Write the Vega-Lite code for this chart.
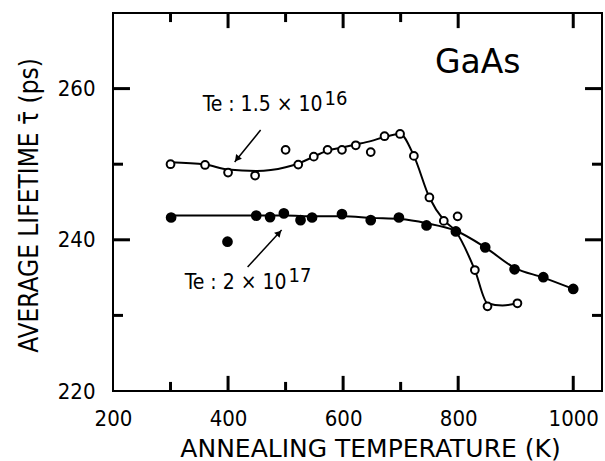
{
  "$schema": "https://vega.github.io/schema/vega-lite/v6.json",
  "width": 489,
  "height": 378,
  "autosize": "none",
  "padding": {"left": 113, "top": 13, "right": 3, "bottom": 70},
  "background": "white",
  "config": {
    "view": {"stroke": "black", "strokeWidth": 2},
    "axis": {
      "domain": false,
      "grid": false,
      "ticks": false,
      "labelFont": "DejaVu Sans Condensed",
      "labelFontSize": 22,
      "labelColor": "black",
      "labelOverlap": false,
      "labelFlush": false,
      "labelBound": false,
      "titleColor": "black",
      "titleFontWeight": "normal"
    }
  },
  "datasets": {
    "points": [
      {"T": 300, "tau": 250.0, "series": "Te 1.5e16"},
      {"T": 360, "tau": 249.9, "series": "Te 1.5e16"},
      {"T": 400, "tau": 248.9, "series": "Te 1.5e16"},
      {"T": 447, "tau": 248.5, "series": "Te 1.5e16"},
      {"T": 500, "tau": 251.9, "series": "Te 1.5e16"},
      {"T": 522, "tau": 249.95, "series": "Te 1.5e16"},
      {"T": 549, "tau": 251.0, "series": "Te 1.5e16"},
      {"T": 573, "tau": 251.9, "series": "Te 1.5e16"},
      {"T": 598, "tau": 251.9, "series": "Te 1.5e16"},
      {"T": 622, "tau": 252.5, "series": "Te 1.5e16"},
      {"T": 648, "tau": 251.6, "series": "Te 1.5e16"},
      {"T": 672, "tau": 253.7, "series": "Te 1.5e16"},
      {"T": 699, "tau": 254.0, "series": "Te 1.5e16"},
      {"T": 723, "tau": 251.1, "series": "Te 1.5e16"},
      {"T": 750, "tau": 245.6, "series": "Te 1.5e16"},
      {"T": 775, "tau": 242.5, "series": "Te 1.5e16"},
      {"T": 799, "tau": 243.1, "series": "Te 1.5e16"},
      {"T": 829, "tau": 236.0, "series": "Te 1.5e16"},
      {"T": 851, "tau": 231.2, "series": "Te 1.5e16"},
      {"T": 903, "tau": 231.6, "series": "Te 1.5e16"},
      {"T": 301, "tau": 242.95, "series": "Te 2e17"},
      {"T": 399, "tau": 239.75, "series": "Te 2e17"},
      {"T": 449, "tau": 243.2, "series": "Te 2e17"},
      {"T": 473, "tau": 243.0, "series": "Te 2e17"},
      {"T": 497, "tau": 243.5, "series": "Te 2e17"},
      {"T": 526, "tau": 242.6, "series": "Te 2e17"},
      {"T": 546, "tau": 242.95, "series": "Te 2e17"},
      {"T": 598, "tau": 243.4, "series": "Te 2e17"},
      {"T": 648, "tau": 242.6, "series": "Te 2e17"},
      {"T": 697, "tau": 242.95, "series": "Te 2e17"},
      {"T": 745, "tau": 241.9, "series": "Te 2e17"},
      {"T": 796, "tau": 241.1, "series": "Te 2e17"},
      {"T": 847, "tau": 239.0, "series": "Te 2e17"},
      {"T": 898, "tau": 236.1, "series": "Te 2e17"},
      {"T": 948, "tau": 235.05, "series": "Te 2e17"},
      {"T": 1000, "tau": 233.5, "series": "Te 2e17"}
    ],
    "curves": [
      {"T": 300, "tau": 250.25, "series": "Te 1.5e16"},
      {"T": 360, "tau": 249.95, "series": "Te 1.5e16"},
      {"T": 400, "tau": 249.3, "series": "Te 1.5e16"},
      {"T": 450, "tau": 249.1, "series": "Te 1.5e16"},
      {"T": 500, "tau": 249.6, "series": "Te 1.5e16"},
      {"T": 522, "tau": 250.1, "series": "Te 1.5e16"},
      {"T": 549, "tau": 251.0, "series": "Te 1.5e16"},
      {"T": 573, "tau": 251.8, "series": "Te 1.5e16"},
      {"T": 598, "tau": 252.2, "series": "Te 1.5e16"},
      {"T": 622, "tau": 252.6, "series": "Te 1.5e16"},
      {"T": 648, "tau": 253.05, "series": "Te 1.5e16"},
      {"T": 672, "tau": 253.6, "series": "Te 1.5e16"},
      {"T": 699, "tau": 254.0, "series": "Te 1.5e16"},
      {"T": 723, "tau": 251.1, "series": "Te 1.5e16"},
      {"T": 750, "tau": 245.6, "series": "Te 1.5e16"},
      {"T": 775, "tau": 242.6, "series": "Te 1.5e16"},
      {"T": 796, "tau": 241.1, "series": "Te 1.5e16"},
      {"T": 829, "tau": 236.0, "series": "Te 1.5e16"},
      {"T": 851, "tau": 231.6, "series": "Te 1.5e16"},
      {"T": 877, "tau": 231.3, "series": "Te 1.5e16"},
      {"T": 903, "tau": 231.6, "series": "Te 1.5e16"},
      {"T": 300, "tau": 243.2, "series": "Te 2e17"},
      {"T": 450, "tau": 243.2, "series": "Te 2e17"},
      {"T": 500, "tau": 243.2, "series": "Te 2e17"},
      {"T": 550, "tau": 243.1, "series": "Te 2e17"},
      {"T": 600, "tau": 243.1, "series": "Te 2e17"},
      {"T": 650, "tau": 242.9, "series": "Te 2e17"},
      {"T": 700, "tau": 242.75, "series": "Te 2e17"},
      {"T": 745, "tau": 242.2, "series": "Te 2e17"},
      {"T": 796, "tau": 241.2, "series": "Te 2e17"},
      {"T": 847, "tau": 239.0, "series": "Te 2e17"},
      {"T": 898, "tau": 236.3, "series": "Te 2e17"},
      {"T": 948, "tau": 235.0, "series": "Te 2e17"},
      {"T": 1000, "tau": 233.5, "series": "Te 2e17"}
    ],
    "frameTicks": [
      {"T": 300, "T2": 300, "tau": 220, "tau2": 221.2},
      {"T": 400, "T2": 400, "tau": 220, "tau2": 222},
      {"T": 500, "T2": 500, "tau": 220, "tau2": 221.2},
      {"T": 600, "T2": 600, "tau": 220, "tau2": 222},
      {"T": 700, "T2": 700, "tau": 220, "tau2": 221.2},
      {"T": 800, "T2": 800, "tau": 220, "tau2": 222},
      {"T": 1000, "T2": 1000, "tau": 220, "tau2": 222},
      {"T": 300, "T2": 300, "tau": 270, "tau2": 268.8},
      {"T": 400, "T2": 400, "tau": 270, "tau2": 268},
      {"T": 500, "T2": 500, "tau": 270, "tau2": 268.8},
      {"T": 600, "T2": 600, "tau": 270, "tau2": 268},
      {"T": 700, "T2": 700, "tau": 270, "tau2": 268.8},
      {"T": 800, "T2": 800, "tau": 270, "tau2": 268},
      {"T": 1000, "T2": 1000, "tau": 270, "tau2": 268},
      {"T": 200, "T2": 217.4, "tau": 230, "tau2": 230},
      {"T": 200, "T2": 229.5, "tau": 240, "tau2": 240},
      {"T": 200, "T2": 217.4, "tau": 250, "tau2": 250},
      {"T": 200, "T2": 229.5, "tau": 260, "tau2": 260},
      {"T": 1050, "T2": 1032.6, "tau": 230, "tau2": 230},
      {"T": 1050, "T2": 1020.5, "tau": 240, "tau2": 240},
      {"T": 1050, "T2": 1032.6, "tau": 250, "tau2": 250},
      {"T": 1050, "T2": 1020.5, "tau": 260, "tau2": 260}
    ],
    "arrows": [
      {"T": 456.6, "tau": 254.52, "T2": 411.5, "tau2": 250.29, "arrow": "a"},
      {"T": 434.0, "tau": 236.4, "T2": 493.1, "tau2": 241.3, "arrow": "b"}
    ],
    "heads": [
      {"T": 415.5, "tau": 250.7, "arrow": "a"},
      {"T": 488.6, "tau": 240.9, "arrow": "b"}
    ],
    "mainLabels": [
      {"text": "Te : 1.5 × 10", "T": 564.2, "tau": 257.04},
      {"text": "Te : 2 × 10", "T": 501.7, "tau": 233.49}
    ],
    "expLabels": [
      {"text": "16", "T": 567.7, "tau": 257.83},
      {"text": "17", "T": 505.2, "tau": 234.42}
    ],
    "sample": [
      {"text": "GaAs", "T": 834, "tau": 262.06}
    ]
  },
  "layer": [
    {
      "data": {"name": "curves"},
      "mark": {"type": "line", "interpolate": "monotone", "color": "black", "strokeWidth": 2},
      "encoding": {
        "x": {
          "field": "T", "type": "quantitative",
          "scale": {"domain": [200, 1050], "nice": false, "zero": false},
          "axis": {
            "orient": "bottom",
            "values": [200, 400, 600, 800, 1000],
            "format": "d",
            "labelPadding": 17,
            "labelBaseline": "top",
            "title": "ANNEALING TEMPERATURE (K)",
            "titleFont": "DejaVu Sans",
            "titleFontSize": 25,
            "titleAnchor": "start",
            "titleAlign": "center",
            "titleBaseline": "alphabetic",
            "titleX": 257,
            "titleY": 65
          }
        },
        "y": {
          "field": "tau", "type": "quantitative",
          "scale": {"domain": [220, 270], "nice": false, "zero": false},
          "axis": {
            "orient": "left",
            "values": [220, 240, 260],
            "labelPadding": 18,
            "title": "AVERAGE LIFETIME τ̄ (ps)",
            "titleFont": "DejaVu Sans Condensed",
            "titleFontSize": 26,
            "titleAngle": -90,
            "titleAlign": "center",
            "titleBaseline": "alphabetic",
            "titleX": -76,
            "titleY": 192
          }
        },
        "detail": {"field": "series"}
      }
    },
    {
      "data": {"name": "frameTicks"},
      "mark": {"type": "rule", "color": "black", "strokeWidth": 3, "strokeCap": "butt"},
      "encoding": {
        "x": {"field": "T", "type": "quantitative", "axis": null},
        "y": {"field": "tau", "type": "quantitative", "axis": null},
        "x2": {"field": "T2"},
        "y2": {"field": "tau2"}
      }
    },
    {
      "data": {"name": "points"},
      "transform": [{"filter": "datum.series == 'Te 1.5e16'"}],
      "mark": {"type": "point", "shape": "circle", "filled": false, "fill": "white", "fillOpacity": 1, "stroke": "black", "strokeWidth": 2, "size": 60, "opacity": 1},
      "encoding": {
        "x": {"field": "T", "type": "quantitative", "axis": null},
        "y": {"field": "tau", "type": "quantitative", "axis": null}
      }
    },
    {
      "data": {"name": "points"},
      "transform": [{"filter": "datum.series == 'Te 2e17'"}],
      "mark": {"type": "circle", "color": "black", "size": 115, "opacity": 1},
      "encoding": {
        "x": {"field": "T", "type": "quantitative", "axis": null},
        "y": {"field": "tau", "type": "quantitative", "axis": null}
      }
    },
    {
      "data": {"name": "arrows"},
      "mark": {"type": "rule", "color": "black", "strokeWidth": 1.5},
      "encoding": {
        "x": {"field": "T", "type": "quantitative", "axis": null},
        "y": {"field": "tau", "type": "quantitative", "axis": null},
        "x2": {"field": "T2"},
        "y2": {"field": "tau2"}
      }
    },
    {
      "data": {"name": "heads"},
      "transform": [{"filter": "datum.arrow == 'a'"}],
      "mark": {"type": "point", "shape": "triangle-up", "filled": true, "color": "black", "size": 55, "angle": 219, "opacity": 1},
      "encoding": {
        "x": {"field": "T", "type": "quantitative", "axis": null},
        "y": {"field": "tau", "type": "quantitative", "axis": null}
      }
    },
    {
      "data": {"name": "heads"},
      "transform": [{"filter": "datum.arrow == 'b'"}],
      "mark": {"type": "point", "shape": "triangle-up", "filled": true, "color": "black", "size": 55, "angle": 42.6, "opacity": 1},
      "encoding": {
        "x": {"field": "T", "type": "quantitative", "axis": null},
        "y": {"field": "tau", "type": "quantitative", "axis": null}
      }
    },
    {
      "data": {"name": "mainLabels"},
      "mark": {"type": "text", "align": "right", "baseline": "alphabetic", "font": "DejaVu Sans Condensed", "fontSize": 21, "color": "black"},
      "encoding": {
        "x": {"field": "T", "type": "quantitative", "axis": null},
        "y": {"field": "tau", "type": "quantitative", "axis": null},
        "text": {"field": "text"}
      }
    },
    {
      "data": {"name": "expLabels"},
      "mark": {"type": "text", "align": "left", "baseline": "alphabetic", "font": "DejaVu Sans Condensed", "fontSize": 20, "color": "black"},
      "encoding": {
        "x": {"field": "T", "type": "quantitative", "axis": null},
        "y": {"field": "tau", "type": "quantitative", "axis": null},
        "text": {"field": "text"}
      }
    },
    {
      "data": {"name": "sample"},
      "mark": {"type": "text", "align": "center", "baseline": "alphabetic", "font": "DejaVu Sans", "fontSize": 33, "color": "black"},
      "encoding": {
        "x": {"field": "T", "type": "quantitative", "axis": null},
        "y": {"field": "tau", "type": "quantitative", "axis": null},
        "text": {"field": "text"}
      }
    }
  ],
  "resolve": {"axis": {"x": "independent", "y": "independent"}}
}
